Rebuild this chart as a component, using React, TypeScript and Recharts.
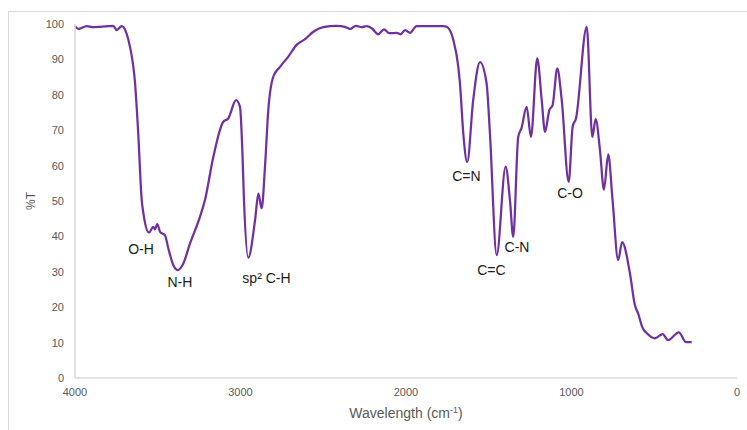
import { LineChart, Line, XAxis, YAxis, ReferenceDot } from "recharts";

// wavenumber (cm-1) and %T
const wavenumbers = [
  4000, 3980, 3929, 3889, 3849, 3769, 3748, 3718, 3692, 3668, 3637, 3618, 3597, 3587, 3553,
  3527, 3517, 3503, 3486, 3456, 3436, 3406, 3379, 3346, 3305, 3245, 3215, 3164, 3104, 3074,
  3027, 3003, 2989, 2979, 2953, 2912, 2892, 2872, 2852, 2832, 2802, 2761, 2711, 2661, 2610,
  2560, 2500, 2419, 2369, 2338, 2302, 2268, 2238, 2207, 2168, 2133, 2101, 2056, 2032, 2006,
  1976, 1936, 1855, 1775, 1754, 1714, 1684, 1674, 1654, 1630, 1594, 1553, 1513, 1493, 1452,
  1398, 1372, 1352, 1322, 1302, 1271, 1245, 1207, 1180, 1160, 1134, 1114, 1086, 1059, 1017,
  993, 973, 908, 874, 854, 828, 804, 778, 752, 718, 694, 647, 617, 598, 570, 546, 496, 449,
  417, 351, 308, 274,
];
const transmittance = [
  99.4, 98.6, 99.4, 99.1, 99.2, 99.5, 98.3, 99.4, 97.8, 93.6, 83.2, 69.2, 50.3, 46.6, 41.1,
  42.7, 42.0, 43.5, 41.3, 40.3, 36.6, 31.9, 30.5, 32.3, 38.0, 45.5, 50.2, 62.5, 72.4, 73.3,
  78.5, 76.6, 64.4, 50.3, 34.0, 44.6, 52.1, 47.9, 59.7, 75.7, 85.1, 87.9, 90.8, 94.1, 95.7,
  97.8, 99.1, 99.5, 99.2, 98.6, 99.5, 99.1, 99.4, 98.8, 97.1, 98.5, 97.4, 97.5, 97.1, 98.3,
  97.5, 99.4, 99.4, 99.4, 99.2, 95.5, 87.9, 83.3, 69.2, 61.0, 78.5, 89.2, 83.2, 69.2, 34.7,
  59.7, 50.3, 39.9, 68.1, 70.6, 76.6, 68.1, 90.3, 78.5, 69.5, 75.7, 77.1, 87.5, 78.5, 55.4,
  71.0, 73.3, 99.2, 68.1, 73.1, 64.4, 53.2, 63.2, 50.3, 33.3, 38.4, 29.6, 20.6, 18.3, 14.1,
  12.7, 11.2, 12.4, 10.7, 12.9, 10.1, 10.1,
];

const xTicks = [0, 1000, 2000, 3000, 4000];
const yTicks = [0, 10, 20, 30, 40, 50, 60, 70, 80, 90, 100];

// band annotations: [label, wavenumber, %T]
const bandLabels = ["O-H", "N-H", "sp² C-H", "C=N", "C=C", "C-N", "C-O"];
const bandX = [3601, 3366, 2843, 1635, 1484, 1329, 1009];
const bandY = [36.4, 27.0, 28.2, 57.0, 30.4, 37.0, 52.2];

const data = wavenumbers.map((w, i) => ({ w, t: transmittance[i] }));

const FONT = "'Liberation Sans', Arial, sans-serif";
const axisGrey = "#595959";

const XTitle = (props: any) => {
  const vb = props.viewBox;
  const cx = vb.x + vb.width / 2;
  return (
    <text x={cx} y={418} textAnchor="middle" fill={axisGrey} fontSize={14} fontFamily={FONT}>
      Wavelength (cm
      <tspan dy={-5} fontSize={9}>-1</tspan>
      <tspan dy={5}>)</tspan>
    </text>
  );
};

export default function App() {
  return (
    <div style={{ position: "absolute", left: 0, top: 0, width: 747, height: 430, overflow: "hidden", background: "#fff" }}>
      <div
        style={{
          position: "absolute",
          left: 8,
          top: 11,
          width: 760,
          height: 440,
          border: "1px solid #d9d9d9",
        }}
      />
      <div style={{ position: "absolute", left: 0, top: 0 }}>
        <LineChart width={747} height={430} data={data} margin={{ top: 24, right: 10, bottom: 22, left: 0 }}>
          <XAxis
            dataKey="w"
            type="number"
            domain={[0, 4000]}
            reversed
            ticks={xTicks}
            tickLine={false}
            tickSize={0}
            tickMargin={10}
            height={30}
            axisLine={{ stroke: "#d9d9d9", strokeWidth: 1.5 }}
            tick={{ fill: axisGrey, fontSize: 11, fontFamily: FONT }}
            label={<XTitle />}
          />
          <YAxis
            type="number"
            domain={[0, 100]}
            ticks={yTicks}
            width={75}
            tickLine={false}
            tickSize={0}
            tickMargin={11}
            axisLine={{ stroke: "#d9d9d9", strokeWidth: 1.5 }}
            tick={{ fill: axisGrey, fontSize: 11, fontFamily: FONT }}
            label={{
              value: "%T",
              angle: -90,
              position: "insideLeft",
              offset: 31,
              fill: axisGrey,
              fontSize: 12,
              fontFamily: FONT,
              style: { textAnchor: "middle" },
            }}
          />
          <Line
            dataKey="t"
            type="monotone"
            stroke="#7030A0"
            strokeWidth={2.25}
            dot={false}
            isAnimationActive={false}
          />
          {bandLabels.map((name, i) => (
            <ReferenceDot
              key={name}
              x={bandX[i]}
              y={bandY[i]}
              r={0}
              fill="none"
              stroke="none"
              label={{ value: name, position: "center", fill: "#1a1a1a", fontSize: 14, fontFamily: FONT }}
            />
          ))}
        </LineChart>
      </div>
    </div>
  );
}
